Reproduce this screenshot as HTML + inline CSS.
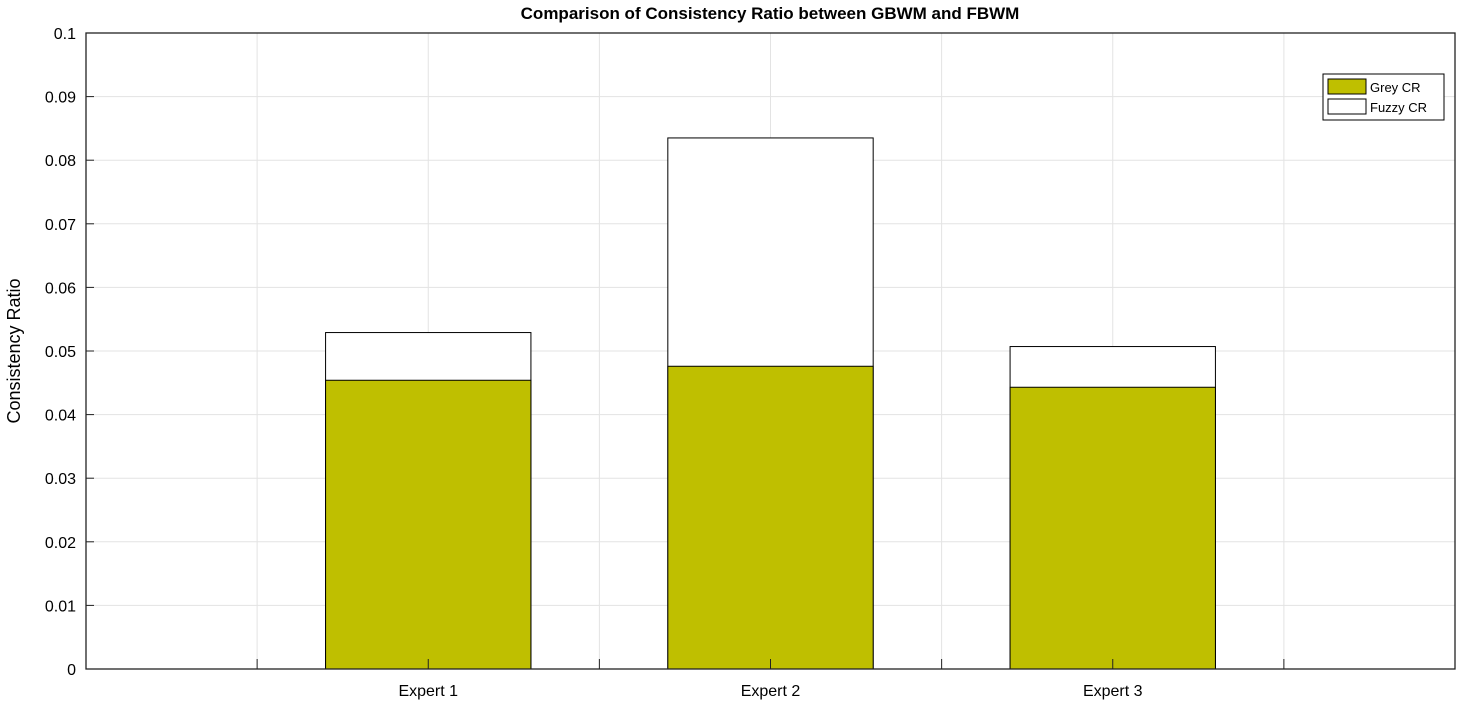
<!DOCTYPE html>
<html><head><meta charset="utf-8"><style>body{margin:0;background:#fff}svg{display:block;font-family:"Liberation Sans",Arial,sans-serif}</style></head>
<body>
<svg id="chart" width="1460" height="704" viewBox="0 0 1460 704" xmlns="http://www.w3.org/2000/svg">
<text x="770" y="19" text-anchor="middle" font-size="17" font-weight="bold">Comparison of Consistency Ratio between GBWM and FBWM</text>
<text transform="translate(20,351) rotate(-90)" text-anchor="middle" font-size="18">Consistency Ratio</text>
<g id="grid"></g><g id="bars"></g><g id="axes"></g>
<g>
<rect x="1323" y="74" width="121" height="46" fill="#fff" stroke="#000" stroke-width="1"/>
<rect x="1328" y="79" width="38" height="15" fill="#bfbf00" stroke="#000"/>
<text x="1370" y="92" font-size="13">Grey CR</text>
<rect x="1328" y="99" width="38" height="15" fill="#fff" stroke="#000"/>
<text x="1370" y="112" font-size="13">Fuzzy CR</text>
</g>
</svg>
<script>
const categories=["Expert 1","Expert 2","Expert 3"];
const greyCR=[0.0454,0.0476,0.0443];
const fuzzyCR=[0.0529,0.0835,0.0507];
const yTicks=[0,0.01,0.02,0.03,0.04,0.05,0.06,0.07,0.08,0.09,0.1];
const yTickLabels=["0","0.01","0.02","0.03","0.04","0.05","0.06","0.07","0.08","0.09","0.1"];
const L=86,R=1455,T=33,B=669,NS="http://www.w3.org/2000/svg";
const x=v=>L+(v/4)*(R-L);
const y=v=>B-(v/0.1)*(B-T);
function mk(p,t,a){const e=document.createElementNS(NS,t);for(const k in a)e.setAttribute(k,a[k]);p.appendChild(e);return e;}
const grid=document.getElementById('grid'),bars=document.getElementById('bars'),axes=document.getElementById('axes');
yTicks.forEach((v,i)=>{
 const g=mk(grid,'line',{x1:L,x2:R,y1:y(v),y2:y(v),stroke:'#e3e3e3','stroke-width':1});
 
 
 const t=mk(axes,'text',{x:L-10,y:y(v)+6,'text-anchor':'end','font-size':16});
 
 
 t.textContent=yTickLabels[i];
 mk(axes,'line',{x1:L,x2:L+8,y1:y(v),y2:y(v),stroke:'#222'});
});
for(let k=1;k<8;k++){
 const v=k*0.5;
 const g=mk(grid,'line',{x1:x(v),x2:x(v),y1:T,y2:B,stroke:'#e3e3e3','stroke-width':1});
 
 
 mk(axes,'line',{x1:x(v),x2:x(v),y1:B,y2:B-10,stroke:'#222'});
}
const w=0.6;
categories.forEach((c,i)=>{
 const cx=i+1;
 const f=mk(bars,'rect',{x:x(cx-w/2),y:y(fuzzyCR[i]),width:x(cx+w/2)-x(cx-w/2),height:y(0)-y(fuzzyCR[i]),fill:'#fff',stroke:'#000'});
 
 
 const g=mk(bars,'rect',{x:x(cx-w/2),y:y(greyCR[i]),width:x(cx+w/2)-x(cx-w/2),height:y(0)-y(greyCR[i]),fill:'#bfbf00',stroke:'#000'});
 
 
 const t=mk(axes,'text',{x:x(cx),y:B+27,'text-anchor':'middle','font-size':16});
 
 
 t.textContent=c;
});
const fr=mk(axes,'rect',{x:L,y:T,width:R-L,height:B-T,fill:'none',stroke:'#222','stroke-width':1.3});


</script>
</body></html>
